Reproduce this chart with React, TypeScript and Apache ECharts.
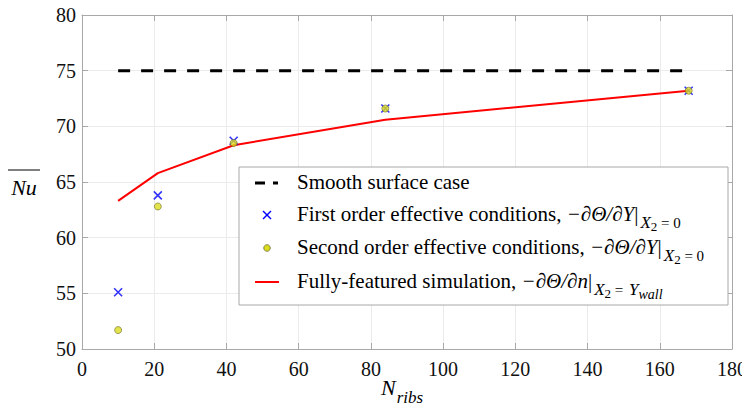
import React, { useEffect, useRef } from "react";
import * as echarts from "echarts";

// Number of ribs at which each configuration was evaluated
const ribCounts = [10, 21, 42, 84, 168];
// Smooth wall reference level, drawn across the evaluated range
const smoothRibs = [10, 168];
const smoothNu = [75, 75];
// Averaged Nusselt number for each model
const firstOrderNu = [55.1, 63.8, 68.7, 71.6, 73.2];
const secondOrderNu = [51.7, 62.8, 68.5, 71.6, 73.2];
const fullSimNu = [63.3, 65.8, 68.3, 70.6, 73.2];

// Axis ticks
const xTicks = [0, 20, 40, 60, 80, 100, 120, 140, 160, 180];
const yTicks = [50, 55, 60, 65, 70, 75, 80];

const legendRows = [
  "{t|Smooth surface case}",
  "{t|First order effective conditions,}{m| −∂Θ/∂Y}{t||}{sx|X}{s2|2}{se| = 0}",
  "{t|Second order effective conditions,}{m| −∂Θ/∂Y}{t||}{sx|X}{s2|2}{se| = 0}",
  "{t|Fully-featured simulation,}{m| −∂Θ/∂n}{t||}{sx|X}{s2|2}{se| = }{sx|Y}{sw|wall}",
];

const SERIF = "Liberation Serif";
const AXIS_GRAY = "#a8a8a8";
const GRID_GRAY = "#ebebeb";
const BLUE = "#0000ff";
const RED = "#ff0000";
const YELLOW = "#dcdc1e";

const pair = (xs: number[], ys: number[]) => xs.map((x, i) => [x, ys[i]]);

const legendRich = {
  t: { fontFamily: SERIF, fontSize: 21, lineHeight: 24, verticalAlign: "top", fill: "#000" },
  m: { fontFamily: SERIF, fontSize: 21, fontStyle: "italic", lineHeight: 24, verticalAlign: "top", fill: "#000" },
  sx: { fontFamily: SERIF, fontSize: 17, fontStyle: "italic", lineHeight: 18, padding: [11, 0, 0, 2], verticalAlign: "top", fill: "#000" },
  s2: { fontFamily: SERIF, fontSize: 13, lineHeight: 14, padding: [17, 0, 0, 0], verticalAlign: "top", fill: "#000" },
  se: { fontFamily: SERIF, fontSize: 15, lineHeight: 16, padding: [12, 0, 0, 0], verticalAlign: "top", fill: "#000" },
  sw: { fontFamily: SERIF, fontSize: 14, fontStyle: "italic", lineHeight: 14, padding: [17, 0, 0, 0], verticalAlign: "top", fill: "#000" },
};

const tickLabel = { fontFamily: SERIF, fontSize: 20, color: "#111" };

const boxAxis = (extra: any) => ({
  type: "value",
  axisLine: { show: true, onZero: false, lineStyle: { color: AXIS_GRAY, width: 1 } },
  axisTick: { show: true, inside: true, length: 6, lineStyle: { color: AXIS_GRAY } },
  axisLabel: { show: false },
  splitLine: { show: false },
  ...extra,
});

export default function App() {
  const ref = useRef<HTMLDivElement>(null);

  useEffect(() => {
    if (!ref.current) return;
    const chart = echarts.init(ref.current, null, { renderer: "svg" });

    const xMin = xTicks[0];
    const xMax = xTicks[xTicks.length - 1];
    const xStep = xTicks[1] - xTicks[0];
    const yMin = yTicks[0];
    const yMax = yTicks[yTicks.length - 1];
    const yStep = yTicks[1] - yTicks[0];

    const legLeft = 239;
    const legTop = 167;
    const rowY = [171, 203, 236, 270];
    const iconX = 267;
    const textX = 297;

    const legendGraphics: any[] = [
      {
        type: "rect",
        shape: { x: legLeft, y: legTop, width: 728 - legLeft, height: 305 - legTop },
        style: { fill: "#fff", stroke: AXIS_GRAY, lineWidth: 1 },
        z: 100,
      },
      // smooth: dashed black
      {
        type: "line",
        shape: { x1: 255, y1: rowY[0] + 12, x2: 278, y2: rowY[0] + 12 },
        style: { stroke: "#000", lineWidth: 3, lineDash: [10, 8] },
        z: 101,
      },
      // first order: blue cross
      {
        type: "line",
        shape: { x1: iconX - 4, y1: rowY[1] + 8, x2: iconX + 4, y2: rowY[1] + 16 },
        style: { stroke: BLUE, lineWidth: 1.5 },
        z: 101,
      },
      {
        type: "line",
        shape: { x1: iconX - 4, y1: rowY[1] + 16, x2: iconX + 4, y2: rowY[1] + 8 },
        style: { stroke: BLUE, lineWidth: 1.5 },
        z: 101,
      },
      // second order: yellow dot
      {
        type: "circle",
        shape: { cx: iconX, cy: rowY[2] + 12, r: 3.3 },
        style: { fill: YELLOW, stroke: "#6b6b2a", lineWidth: 0.8 },
        z: 101,
      },
      // full simulation: red line
      {
        type: "line",
        shape: { x1: 255, y1: rowY[3] + 12, x2: 279, y2: rowY[3] + 12 },
        style: { stroke: RED, lineWidth: 2 },
        z: 101,
      },
      ...legendRows.map((txt, i) => ({
        type: "text",
        x: textX,
        y: rowY[i],
        style: {
          text: txt,
          rich: legendRich,
          fontFamily: SERIF,
          fontSize: 21,
          align: "left",
          verticalAlign: "top",
        },
        z: 101,
      })),
      // y axis title with overbar
      {
        type: "text",
        x: 24,
        y: 187,
        style: {
          text: "Nu",
          fontFamily: SERIF,
          fontSize: 22,
          fontStyle: "italic",
          fill: "#000",
          align: "center",
          verticalAlign: "middle",
        },
      },
      {
        type: "line",
        shape: { x1: 8, y1: 170, x2: 40, y2: 170 },
        style: { stroke: "#000", lineWidth: 1 },
      },
      // x axis title with subscript
      {
        type: "text",
        x: 381,
        y: 376,
        style: {
          text: "{n|N}{s|ribs}",
          rich: {
            n: { fontFamily: SERIF, fontSize: 22, fontStyle: "italic", lineHeight: 24, verticalAlign: "top", fill: "#000" },
            s: { fontFamily: SERIF, fontSize: 17, fontStyle: "italic", lineHeight: 18, padding: [13, 0, 0, 1], verticalAlign: "top", fill: "#000" },
          },
          align: "left",
          verticalAlign: "top",
        },
      },
    ];

    chart.setOption({
      animation: false,
      backgroundColor: "#fff",
      textStyle: { fontFamily: SERIF },
      grid: { left: 82, right: 15, top: 15, bottom: 64, containLabel: false },
      xAxis: [
        boxAxis({
          min: xMin,
          max: xMax,
          interval: xStep,
          axisLabel: { ...tickLabel, margin: 10, hideOverlap: false },
          splitLine: { show: true, lineStyle: { color: GRID_GRAY, width: 1 } },
        }),
        boxAxis({ position: "top", min: xMin, max: xMax, interval: xStep }),
      ],
      yAxis: [
        boxAxis({
          min: yMin,
          max: yMax,
          interval: yStep,
          axisLabel: { ...tickLabel, margin: 6 },
          splitLine: { show: true, lineStyle: { color: GRID_GRAY, width: 1 } },
        }),
        boxAxis({ position: "right", min: yMin, max: yMax, interval: yStep }),
      ],
      series: [
        {
          name: "Smooth surface case",
          type: "line",
          data: pair(smoothRibs, smoothNu),
          showSymbol: false,
          lineStyle: { color: "#000", width: 3, type: [12, 11] },
          z: 2,
        },
        {
          name: "Fully-featured simulation",
          type: "line",
          data: pair(ribCounts, fullSimNu),
          showSymbol: false,
          lineStyle: { color: RED, width: 2 },
          z: 3,
        },
        {
          name: "First order effective conditions",
          type: "scatter",
          data: pair(ribCounts, firstOrderNu),
          symbol: "path://M0 0L10 10M10 0L0 10",
          symbolSize: 8,
          itemStyle: { color: "none", borderColor: BLUE, borderWidth: 1.6 },
          z: 4,
        },
        {
          name: "Second order effective conditions",
          type: "scatter",
          data: pair(ribCounts, secondOrderNu),
          symbol: "circle",
          symbolSize: 7,
          itemStyle: { color: YELLOW, borderColor: "#6b6b2a", borderWidth: 0.8 },
          z: 5,
        },
      ],
      graphic: legendGraphics,
    });

    return () => chart.dispose();
  }, []);

  return <div ref={ref} style={{ width: 750, height: 413, margin: -8 }} />;
}
